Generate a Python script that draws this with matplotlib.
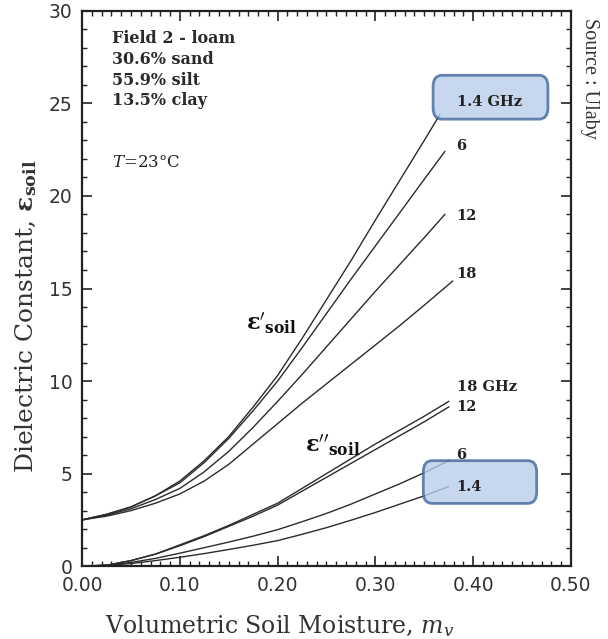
import matplotlib
matplotlib.use("Agg")
import matplotlib.pyplot as plt
from matplotlib.patches import FancyBboxPatch
from matplotlib.ticker import MultipleLocator, FormatStrFormatter

plt.rcParams['mathtext.fontset'] = 'dejavuserif'

# volumetric soil moisture grid
mv = [0.0, 0.025, 0.05, 0.075, 0.10, 0.125, 0.15, 0.175, 0.20,
      0.225, 0.25, 0.275, 0.30, 0.325, 0.35]

# real part eps' per frequency, last point = end of curve
eps_r_freqs = ["1.4 GHz", "6", "12", "18"]
eps_r_end_mv = [0.366, 0.371, 0.371, 0.379]
eps_r = [
    [2.5, 2.8, 3.2, 3.8, 4.6, 5.7, 7.0, 8.6, 10.3, 12.3, 14.4, 16.5, 18.7, 20.85, 23.0, 24.4],
    [2.5, 2.8, 3.2, 3.8, 4.5, 5.6, 6.9, 8.4, 10.0, 11.8, 13.65, 15.5, 17.3, 19.1, 20.9, 22.4],
    [2.5, 2.75, 3.1, 3.6, 4.2, 5.1, 6.2, 7.5, 8.9, 10.35, 11.85, 13.35, 14.85, 16.3, 17.75, 19.0],
    [2.5, 2.7, 3.0, 3.4, 3.9, 4.6, 5.5, 6.6, 7.7, 8.8, 9.85, 10.9, 11.95, 13.0, 14.1, 15.4],
]

# imaginary part eps'' per frequency
eps_i_freqs = ["18 GHz", "12", "6", "1.4"]
eps_i_end_mv = [0.375, 0.375, 0.375, 0.375]
eps_i = [
    [0.0, 0.05, 0.3, 0.65, 1.15, 1.65, 2.2, 2.8, 3.4, 4.2, 5.0, 5.8, 6.6, 7.35, 8.1, 8.9],
    [0.0, 0.05, 0.3, 0.65, 1.1, 1.6, 2.15, 2.7, 3.3, 4.05, 4.8, 5.55, 6.3, 7.05, 7.8, 8.6],
    [0.0, 0.05, 0.2, 0.42, 0.7, 1.0, 1.3, 1.62, 1.97, 2.4, 2.85, 3.35, 3.9, 4.45, 5.05, 5.7],
    [0.0, 0.04, 0.14, 0.3, 0.48, 0.68, 0.9, 1.13, 1.38, 1.72, 2.08, 2.48, 2.9, 3.35, 3.8, 4.3],
]

fig = plt.figure(figsize=(6.08, 6.39), dpi=100)
ax = fig.add_axes([0.135, 0.114, 0.804, 0.869])

line_kw = dict(color='#2b2b2b', linewidth=1.0, zorder=2)
for vals, end in zip(eps_r, eps_r_end_mv):
    ax.plot(mv + [end], vals, **line_kw)
for vals, end in zip(eps_i, eps_i_end_mv):
    ax.plot(mv + [end], vals, **line_kw)

# curve end labels
lab_kw = dict(family='DejaVu Serif', fontweight='bold', fontsize=10.5,
              color='#222222', va='center', ha='left', zorder=6)
for name, y in zip(eps_r_freqs, [25.1, 22.7, 18.9, 15.8]):
    ax.text(0.383, y, name, **lab_kw)
for name, y in zip(eps_i_freqs, [9.7, 8.6, 6.0, 4.3]):
    ax.text(0.383, y, name, **lab_kw)

# highlight boxes (axes fraction)
ar = 489 / 555
for x0, y0, x1, y1 in [(0.718, 0.805, 0.953, 0.884), (0.698, 0.113, 0.930, 0.190)]:
    box = FancyBboxPatch((x0, y0), x1 - x0, y1 - y0,
                         boxstyle="round,pad=0,rounding_size=0.018",
                         mutation_aspect=1 / ar, transform=ax.transAxes,
                         facecolor='#b9cde9', edgecolor='#41679c',
                         linewidth=2.0, alpha=0.8, zorder=4)
    ax.add_patch(box)

# curve family labels
ax.text(0.168, 13.1, r"$\boldsymbol{\varepsilon}'_{\mathbf{soil}}$",
        fontsize=16, color='#111111', va='center', ha='left')
ax.text(0.228, 6.5, r"$\boldsymbol{\varepsilon}''_{\mathbf{soil}}$",
        fontsize=16, color='#111111', va='center', ha='left')

# soil info block
info_kw = dict(family='DejaVu Serif', fontweight='bold', fontsize=11.5,
               color='#2a2a2a', va='center', ha='left')
info_lines = ["Field 2 - loam", "30.6% sand", "55.9% silt", "13.5% clay"]
for i, t in enumerate(info_lines):
    ax.text(0.031, 28.5 - i * 1.12, t, **info_kw)
ax.text(0.031, 21.8, r"$T$=23°C", family='DejaVu Serif', fontsize=12,
        color='#222222', va='center', ha='left')

ax.set_xlim(0, 0.5)
ax.set_ylim(0, 30)
ax.xaxis.set_major_locator(MultipleLocator(0.1))
ax.xaxis.set_minor_locator(MultipleLocator(0.01))
ax.yaxis.set_major_locator(MultipleLocator(5))
ax.yaxis.set_minor_locator(MultipleLocator(1))
ax.xaxis.set_major_formatter(FormatStrFormatter('%.2f'))
ax.tick_params(which='both', direction='in', top=True, right=True,
               color='#222222', labelcolor='#333333')
ax.tick_params(which='major', length=7, width=1.2, labelsize=13.5, pad=7)
ax.tick_params(which='minor', length=3.5, width=1.0)
for s in ax.spines.values():
    s.set_linewidth(1.6)
    s.set_color('#222222')

ax.set_xlabel(r"Volumetric Soil Moisture, $m_v$", family='DejaVu Serif',
              fontsize=17, color='#333333', labelpad=8)
ax.xaxis.set_label_coords(0.405, -0.085)
ax.set_ylabel(r"Dielectric Constant, $\boldsymbol{\varepsilon}_{\mathbf{soil}}$",
              family='DejaVu Serif', fontsize=18, color='#333333')
ax.yaxis.set_label_coords(-0.088, 0.45)

fig.text(0.970, 0.972, "Source : Ulaby", family='Liberation Serif', fontsize=14.5,
         rotation=270, va='top', ha='center', color='#333333')

fig.savefig("out.png", dpi=100)
